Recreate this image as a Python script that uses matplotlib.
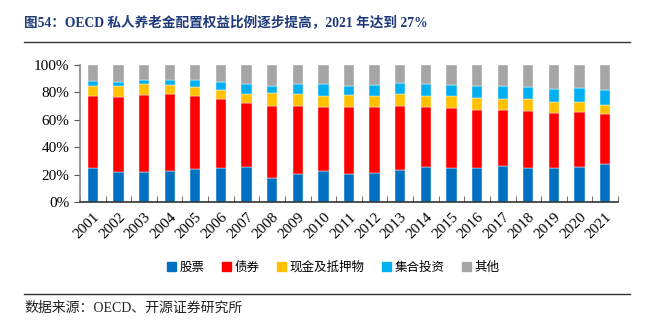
import matplotlib
matplotlib.use("Agg")
import matplotlib.pyplot as plt
import numpy as np
from matplotlib.lines import Line2D

years = [str(y) for y in range(2001, 2022)]
# cumulative tops (%)
equity = [24.6, 21.7, 22.1, 22.4, 23.8, 25.1, 25.3, 17.5, 20.4, 22.4, 20.4,
          21.4, 23.1, 25.5, 25.1, 24.6, 26.0, 25.1, 24.6, 25.3, 27.5]
bond_top = [77.6, 76.9, 78.1, 79.1, 77.6, 74.9, 72.5, 70.3, 70.3, 69.6, 69.1,
            69.6, 70.1, 69.3, 68.9, 67.4, 66.9, 66.7, 65.2, 65.9, 64.5]
cash_top = [84.9, 84.4, 85.9, 85.4, 83.9, 82.0, 79.1, 79.6, 78.8, 77.6, 78.1,
            77.6, 78.8, 77.6, 77.1, 75.9, 75.4, 75.2, 73.0, 72.7, 70.8]
fund_top = [88.6, 87.8, 89.3, 89.3, 88.8, 87.8, 86.4, 84.9, 85.9, 85.9, 84.9,
            85.6, 87.1, 86.4, 85.6, 84.9, 84.7, 84.2, 82.2, 83.0, 81.5]

equity = np.array(equity)
bonds = np.array(bond_top) - equity
cash = np.array(cash_top) - np.array(bond_top)
funds = np.array(fund_top) - np.array(cash_top)
other = 100 - np.array(fund_top)

labels = ["股票", "债券", "现金及抵押物", "集合投资", "其他"]
colors = ["#0070C0", "#FF0000", "#FFC000", "#00B0F0", "#A5A5A5"]
series = [equity, bonds, cash, funds, other]

cjk = ["Noto Sans CJK SC", "DejaVu Sans"]
serif = ["Liberation Serif", "DejaVu Serif"]
mixed = ["Liberation Serif", "Noto Sans CJK SC", "DejaVu Sans"]

fig = plt.figure(figsize=(6.53, 3.24), dpi=100)
ax = fig.add_axes([80/653, 1-202/324, 538/653, 137/324])

x = np.arange(len(years))
bottom = np.zeros(len(years))
for s, c, l in zip(series, colors, labels):
    ax.bar(x, s, bottom=bottom, color=c, width=0.4, label=l, edgecolor="white", linewidth=0.3)
    bottom += s

ax.set_xlim(-0.5, len(years)-0.5)
ax.set_ylim(0, 100)
ax.set_yticks(range(0, 101, 20))
ax.set_yticklabels([f"{v}%" for v in range(0, 101, 20)], fontfamily=serif, fontsize=11)
ax.set_xticks(x)
ax.set_xticklabels(years, rotation=45, fontfamily=serif, fontsize=11, ha="right", rotation_mode="anchor")
ax.tick_params(axis="x", length=0, pad=6)
ax.set_xticks(np.arange(-0.5, len(years), 1), minor=True)
ax.tick_params(axis="x", which="minor", direction="in", length=4, color="#555555")
ax.tick_params(axis="y", direction="out", length=4, color="#555555")
for sp in ["top", "right"]:
    ax.spines[sp].set_visible(False)
ax.spines["left"].set_color("#888888")
ax.spines["left"].set_linewidth(1.2)
ax.spines["bottom"].set_color("#333333")
ax.spines["bottom"].set_linewidth(1.2)

handles = [plt.Rectangle((0, 0), 1, 1, color=c) for c in colors]
fig.legend(handles, labels, loc="center", bbox_to_anchor=(333/653, 1-267/324), ncol=5,
           frameon=False, prop={"family": cjk, "size": 9}, handlelength=0.7, handleheight=0.7,
           handletextpad=0.3, columnspacing=1.4)

fig.text(24/653, 1-22/324, "图54：OECD 私人养老金配置权益比例逐步提高，2021 年达到 27%",
         fontfamily=mixed, fontsize=9.8, fontweight="bold", color="#1F3A7A", va="center", ha="left")
fig.add_artist(Line2D([24/653, 630/653], [1-42/324, 1-42/324], color="#333333", linewidth=1.0))
fig.add_artist(Line2D([24/653, 630/653], [1-294/324, 1-294/324], color="#333333", linewidth=1.0))
fig.text(24/653, 1-308/324, "数据来源：OECD、开源证券研究所", fontfamily=mixed, fontsize=10,
         color="#222222", va="center", ha="left")

fig.savefig("out.png", dpi=100)
